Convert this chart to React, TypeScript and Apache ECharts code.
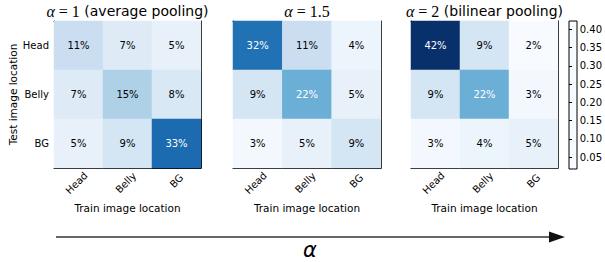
import React, { useEffect, useRef } from "react";
import * as echarts from "echarts";

const trainCats = ["Head", "Belly", "BG"];
const testCats = ["Head", "Belly", "BG"];
// rows = test location (Head, Belly, BG), cols = train location (Head, Belly, BG); percent
const avgPooling = [
  [11, 7, 5],
  [7, 15, 8],
  [5, 9, 33],
];
const alpha15 = [
  [32, 11, 4],
  [9, 22, 5],
  [3, 5, 9],
];
const bilinear = [
  [42, 9, 2],
  [9, 22, 3],
  [3, 4, 5],
];
const colorMin = 0.02;
const colorMax = 0.42;
const colorbarTicks = [0.05, 0.1, 0.15, 0.2, 0.25, 0.3, 0.35, 0.4];
const blues = ["#f7fbff", "#deebf7", "#c6dbef", "#9ecae1", "#6baed6", "#4292c6", "#2171b5", "#08519c", "#08306b"];

const panels = [
  { data: avgPooling, title: "{a|α}{m| = 1} (average pooling)" },
  { data: alpha15, title: "{a|α}{m| = 1.5}" },
  { data: bilinear, title: "{a|α}{m| = 2} (bilinear pooling)" },
];

const gridBoxes = [
  { left: 54, top: 21, width: 147, height: 147 },
  { left: 233, top: 21, width: 148, height: 147 },
  { left: 411, top: 21, width: 147, height: 147 },
];
const cbBox = { left: 569, top: 21, width: 8, height: 148 };
// per-label shift so rotated labels are centred on their tick with tops aligned
const labelShift: Record<string, number> = { Head: 5.5, Belly: 4.8, BG: 0 };

export default function App() {
  const ref = useRef<HTMLDivElement>(null);
  useEffect(() => {
    document.body.style.margin = "0";
    const chart = echarts.init(ref.current!, null, { renderer: "svg" });
    const font = "DejaVu Sans";
    const grid: any[] = gridBoxes.map((g) => ({ ...g, containLabel: false }));
    grid.push({ ...cbBox });
    const xAxis: any[] = [];
    const yAxis: any[] = [];
    const series: any[] = [];
    const lineStyle = { color: "#000", width: 1 };
    const xData = trainCats.map((c) => ({
      value: c,
      textStyle: {
        align: "center",
        verticalAlign: "middle",
        fontFamily: font,
        fontSize: 10,
        color: "#000",
        padding: [labelShift[c], labelShift[c], 0, 0],
      },
    }));
    panels.forEach((p, i) => {
      xAxis.push({
        type: "category",
        data: xData,
        gridIndex: i,
        position: "bottom",
        axisLine: { show: true, lineStyle },
        axisTick: { show: true, inside: true, length: 3, alignWithLabel: true, lineStyle },
        axisLabel: {
          rotate: 45,
          margin: 13,
          align: "center",
          verticalAlign: "middle",
          fontFamily: font,
          fontSize: 10,
          color: "#000",
        },
        splitLine: { show: false },
        name: "Train image location",
        nameLocation: "middle",
        nameGap: 31,
        nameTextStyle: { fontFamily: font, fontSize: 10.5, color: "#000" },
      });
      xAxis.push({
        type: "category",
        data: trainCats,
        gridIndex: i,
        position: "top",
        axisLine: { show: true, lineStyle },
        axisTick: { show: true, inside: true, length: 3, alignWithLabel: true, lineStyle },
        axisLabel: { show: false },
      });
      yAxis.push({
        type: "category",
        data: testCats,
        inverse: true,
        gridIndex: i,
        position: "left",
        axisLine: { show: true, lineStyle },
        axisTick: { show: true, inside: true, length: 3, alignWithLabel: true, lineStyle },
        axisLabel: { show: i === 0, margin: 5, fontFamily: font, fontSize: 10, color: "#000" },
        name: i === 0 ? "Test image location" : "",
        nameLocation: "middle",
        nameGap: 36,
        nameRotate: 90,
        nameTextStyle: { fontFamily: font, fontSize: 10.5, color: "#000" },
      });
      yAxis.push({
        type: "category",
        data: testCats,
        inverse: true,
        gridIndex: i,
        position: "right",
        axisLine: { show: true, lineStyle },
        axisTick: { show: true, inside: true, length: 3, alignWithLabel: true, lineStyle },
        axisLabel: { show: false },
      });
      const d: any[] = [];
      p.data.forEach((row, r) =>
        row.forEach((v, c) => {
          const val = v / 100;
          d.push({
            value: [c, r, val],
            label: { color: val > (colorMin + colorMax) / 2 - 0.005 ? "#fff" : "#000" },
          });
        })
      );
      series.push({
        type: "heatmap",
        xAxisIndex: i * 2,
        yAxisIndex: i * 2,
        data: d,
        label: {
          show: true,
          fontFamily: font,
          fontSize: 10,
          formatter: (pp: any) => Math.round(pp.value[2] * 100) + "%",
        },
        itemStyle: { borderWidth: 0 },
        emphasis: { disabled: true },
      });
    });
    // colorbar axis
    xAxis.push({ type: "value", gridIndex: 3, show: false, min: 0, max: 1 });
    yAxis.push({
      type: "value",
      gridIndex: 3,
      position: "right",
      min: colorMin - 0.0025,
      max: colorMax + 0.0025,
      axisLine: { show: false },
      axisTick: { show: true, inside: false, length: 3, lineStyle, customValues: colorbarTicks },
      axisLabel: {
        show: true,
        margin: 4,
        fontFamily: font,
        fontSize: 10,
        color: "#000",
        customValues: colorbarTicks,
        formatter: (v: number) => v.toFixed(2),
      },
      splitLine: { show: false },
    });

    const titleStyleRich = {
      a: { fontFamily: "Liberation Serif", fontStyle: "italic", fontSize: 16, fill: "#000" },
      m: { fontFamily: "Liberation Serif", fontSize: 16, fill: "#000" },
    };
    const graphic: any[] = panels.map((p, i) => ({
      type: "text",
      x: gridBoxes[i].left + gridBoxes[i].width / 2,
      y: 11,
      style: {
        text: p.title,
        fontFamily: font,
        fontSize: 14,
        fill: "#000",
        align: "center",
        verticalAlign: "middle",
        rich: titleStyleRich,
      },
    }));
    const stops = blues.map((c, k) => ({ offset: 1 - k / (blues.length - 1), color: c }));
    graphic.push({
      type: "rect",
      shape: { x: cbBox.left, y: cbBox.top, width: cbBox.width, height: cbBox.height },
      style: {
        fill: new echarts.graphic.LinearGradient(0, 0, 0, 1, stops),
        stroke: "#000",
        lineWidth: 1,
      },
    });
    graphic.push({
      type: "line",
      shape: { x1: 56, y1: 237, x2: 553, y2: 237 },
      style: { stroke: "#333", lineWidth: 1.5 },
    });
    graphic.push({
      type: "polygon",
      shape: { points: [[565, 237], [549, 231.5], [549, 242.5]] },
      style: { fill: "#111" },
    });
    graphic.push({
      type: "text",
      x: 310,
      y: 250,
      style: {
        text: "α",
        fontFamily: "DejaVu Sans",
        fontStyle: "italic",
        fontSize: 21,
        lineHeight: 14,
        fill: "#000",
        align: "center",
        verticalAlign: "middle",
      },
    });

    chart.setOption({
      animation: false,
      grid,
      xAxis,
      yAxis,
      series,
      visualMap: {
        type: "continuous",
        show: false,
        min: colorMin,
        max: colorMax,
        dimension: 2,
        seriesIndex: [0, 1, 2],
        inRange: { color: blues },
      },
      graphic,
    });
    return () => chart.dispose();
  }, []);
  return <div ref={ref} style={{ width: 605, height: 262 }} />;
}
